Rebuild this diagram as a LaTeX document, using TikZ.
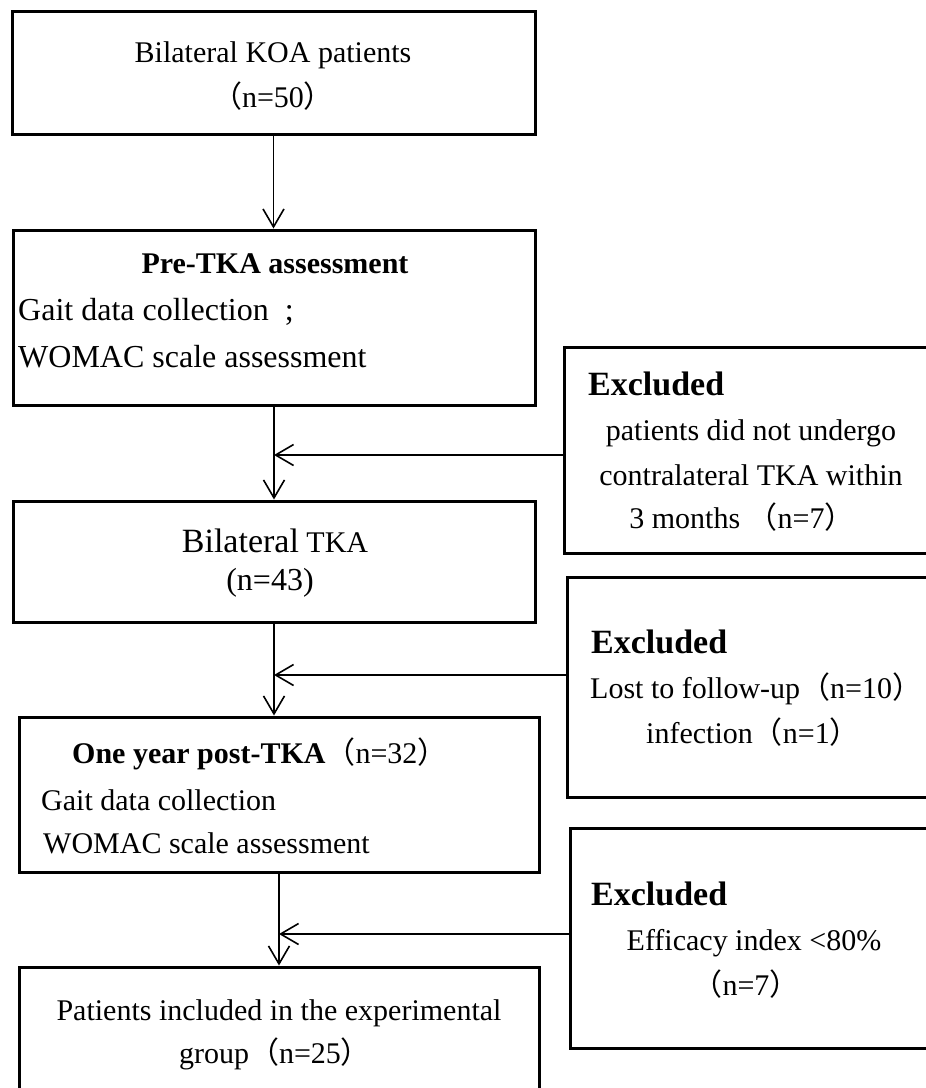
\documentclass[tikz,border=0pt]{standalone}
\usepackage{fontspec}
\setmainfont{Liberation Serif}
\newfontfamily\cjk{Noto Sans CJK SC}
\newcommand\myLP{{\cjk （}}
\newcommand\myRP{{\cjk ）}}
\usetikzlibrary{arrows.meta,calc}
\begin{document}
\begin{tikzpicture}[x=1pt,y=-1pt,
  box/.style={draw, line width=3pt, inner sep=0pt, rectangle},
  txt/.style={inner sep=0pt, anchor=base, font=\fontsize{30}{36}\selectfont},
  txtw/.style={txt, anchor=base west},
  big/.style={inner sep=0pt, anchor=base, font=\fontsize{32}{38}\selectfont},
  bigw/.style={big, anchor=base west},
  exc/.style={inner sep=0pt, anchor=base west, font=\fontsize{34}{40}\selectfont\bfseries},
  arr/.style={line width=1.6pt, -{Straight Barb[length=18pt,width=21pt]}}]
\useasboundingbox (0,0) rectangle (926,1088);
\clip (0,0) rectangle (926,1088);
\fill[white] (0,0) rectangle (926,1088);

% main boxes
\node[box, minimum width=523pt, minimum height=123pt] (b1) at (273.5,72.5) {};
\node[box, minimum width=522pt, minimum height=175pt] (b2) at (274,317.5) {};
\node[box, minimum width=522pt, minimum height=121pt] (b3) at (274,561.5) {};
\node[box, minimum width=520pt, minimum height=155pt] (b4) at (279,794.5) {};
\node[box, minimum width=520pt, minimum height=125pt] (b5) at (279,1029.5) {};
% exclusion boxes
\node[box, minimum width=366pt, minimum height=206pt] (e1) at (747,450) {};
\node[box, minimum width=363pt, minimum height=220pt] (e2) at (748.5,687) {};
\node[box, minimum width=360pt, minimum height=220pt] (e3) at (750,938) {};

% texts box 1
\node[txt] (t1a) at (273,62) {Bilateral KOA patients};
\node[txt] (t1b) at (273,107) {\myLP n=50\myRP};
% box 2
\node[txt, font=\fontsize{30}{36}\selectfont\bfseries] (t2a) at (275,273) {Pre-TKA assessment};
\node[bigw] (t2b) at (18,320) {Gait data collection\ \ ;};
\node[bigw] (t2c) at (18,367) {WOMAC scale assessment};
% box 3
\node[txt] (t3a) at (275,552) {{\fontsize{34}{40}\selectfont Bilateral} TKA};
\node[big] (t3b) at (270,590) {(n=43)};
% box 4
\node[txtw] (t4a) at (72,763) {\textbf{One year post-TKA}\myLP n=32\myRP};
\node[txtw] (t4b) at (41,810) {Gait data collection};
\node[txtw] (t4c) at (43,853) {WOMAC scale assessment};
% box 5
\node[txt] (t5a) at (279,1020) {Patients included in the experimental};
\node[txt] (t5b) at (275,1063) {group\myLP n=25\myRP};

% exclusion 1
\node[exc] (x1) at (588,395) {Excluded};
\node[txt] (x1a) at (751,440) {patients did not undergo};
\node[txt] (x1b) at (751,485) {contralateral TKA within};
\node[txt] (x1c) at (742,528) {3 months \myLP n=7\myRP};
% exclusion 2
\node[exc] (x2) at (591,653) {Excluded};
\node[txtw] (x2a) at (590,698) {Lost to follow-up\myLP n=10\myRP};
\node[txtw] (x2b) at (646,743) {infection\myLP n=1\myRP};
% exclusion 3
\node[exc] (x3) at (591,905) {Excluded};
\node[txt] (x3a) at (754,950) {Efficacy index <80\%};
\node[txt] (x3b) at (746,995) {\myLP n=7\myRP};

% junction points
\coordinate (m1) at (274,455);
\coordinate (m2) at (274,675);
\coordinate (m3) at (279,934);

% vertical arrows
\draw[arr] (b1.south) -- (b1.south |- b2.north);
\draw[arr] (b2.south) -- (b2.south |- b3.north);
\draw[arr] (b3.south) -- (b3.south |- b4.north);
\draw[arr] (b4.south) -- (b4.south |- b5.north);
% horizontal arrows
\draw[arr] (e1.west |- m1) -- (m1);
\draw[arr] (e2.west |- m2) -- (m2);
\draw[arr] (e3.west |- m3) -- (m3);
\end{tikzpicture}
\end{document}
